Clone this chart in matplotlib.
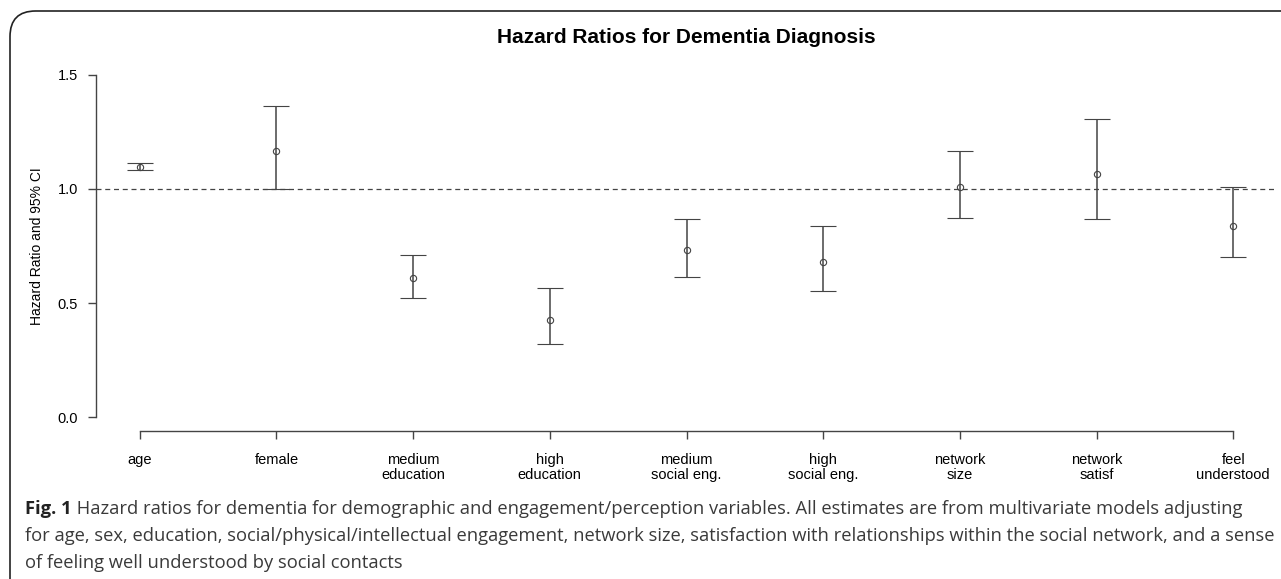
import matplotlib
matplotlib.use("Agg")
import matplotlib.pyplot as plt
from matplotlib.patches import FancyBboxPatch

plt.rcParams['font.family'] = ['Liberation Sans', 'DejaVu Sans']

# hazard ratios and 95% CI
labels = ["age", "female", "medium\neducation", "high\neducation",
          "medium\nsocial eng.", "high\nsocial eng.", "network\nsize",
          "network\nsatisf", "feel\nunderstood"]
hr = [1.098, 1.167, 0.608, 0.425, 0.731, 0.680, 1.010, 1.064, 0.839]
ci_low = [1.083, 0.999, 0.523, 0.322, 0.616, 0.551, 0.874, 0.867, 0.702]
ci_high = [1.114, 1.361, 0.709, 0.564, 0.867, 0.838, 1.168, 1.306, 1.007]
yticks = [0.0, 0.5, 1.0, 1.5]

title = "Hazard Ratios for Dementia Diagnosis"
ylabel = "Hazard Ratio and 95% CI"
caption_bold = "Fig. 1"
caption_lines = [
    " Hazard ratios for dementia for demographic and engagement/perception variables. All estimates are from multivariate models adjusting",
    "for age, sex, education, social/physical/intellectual engagement, network size, satisfaction with relationships within the social network, and a sense",
    "of feeling well understood by social contacts",
]

W, H = 1281, 579
fig = plt.figure(figsize=(W / 100, H / 100), dpi=100)

# rounded frame round the figure (open to the right and bottom)
frame = FancyBboxPatch((10 / W, -30 / H), (W + 20) / W, (H + 30 - 11) / H,
                       boxstyle="round,pad=0,rounding_size=0.02",
                       transform=fig.transFigure, fill=False,
                       edgecolor="#222222", linewidth=1.2, mutation_aspect=W / H)
fig.patches.append(frame)

ax = fig.add_axes([96 / W, (H - 431) / H, (1277 - 96) / W, (431 - 61) / H])
col = "#444444"
x = list(range(1, len(hr) + 1))
err = [[h - l for h, l in zip(hr, ci_low)], [u - h for h, u in zip(hr, ci_high)]]
ax.errorbar(x, hr, yerr=err, fmt="o", color=col, ecolor=col, elinewidth=1.1,
            capsize=9.7, capthick=1.1, markersize=4.5, markerfacecolor="none",
            markeredgewidth=0.8)
ax.axhline(1.0, color=col, linestyle=(0, (4, 3)), linewidth=0.9)

ax.set_xlim(0.68, 9.32)
ax.set_ylim(-0.06, 1.56)
for s in ["top", "right"]:
    ax.spines[s].set_visible(False)
ax.spines["left"].set_bounds(0, 1.5)
ax.spines["bottom"].set_bounds(1, 9)
for s in ["left", "bottom"]:
    ax.spines[s].set_color(col)
    ax.spines[s].set_linewidth(1.0)
ax.set_xticks(x)
ax.set_xticklabels(labels, fontsize=10.5, linespacing=1.05)
ax.set_yticks(yticks)
ax.set_yticklabels(["%.1f" % v for v in yticks], fontsize=10.5)
ax.tick_params(axis="both", color=col, length=6, width=1.0)
ax.tick_params(axis="x", pad=10)
ax.tick_params(axis="y", pad=7)
ax.set_ylabel(ylabel, fontsize=10, labelpad=10)
fig.text(686 / W, 1 - 43 / H, title, ha="center", va="baseline",
         fontsize=15, fontweight="bold")

# caption below the chart
cap_font = ["Open Sans", "DejaVu Sans"]
cap_size = 13.2
y0 = 1 - 509 / H
t = fig.text(25 / W, y0, caption_bold, ha="left", va="center",
             fontsize=cap_size, fontweight="bold", color="#222222", family=cap_font)
fig.canvas.draw()
bb = t.get_window_extent()
fig.text(bb.x1 / W, y0, caption_lines[0], ha="left", va="center",
         fontsize=cap_size, color="#3a3a3a", family=cap_font)
for i, line in enumerate(caption_lines[1:]):
    fig.text(25 / W, 1 - (536 + 26.5 * i) / H, line, ha="left", va="center",
             fontsize=cap_size, color="#3a3a3a", family=cap_font)

fig.savefig("out.png", dpi=100)
